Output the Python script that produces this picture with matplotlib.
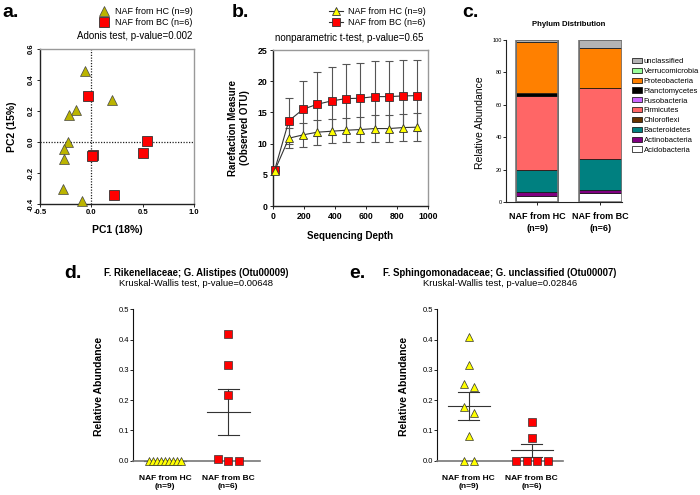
import numpy as np
import matplotlib
matplotlib.use("Agg")
import matplotlib.pyplot as plt
from matplotlib.patches import Patch
from matplotlib.lines import Line2D

plt.rcParams['font.family'] = ['Liberation Sans', 'DejaVu Sans']
plt.rcParams['axes.unicode_minus'] = False

# a. PCoA scores
hc_pc1 = [-0.059, 0.204, -0.149, -0.218, -0.227, -0.270, -0.266, -0.276, -0.088]
hc_pc2 = [0.460, 0.271, 0.206, 0.176, -0.002, -0.047, -0.112, -0.303, -0.381]
bc_pc1 = [-0.030, 0.539, 0.500, 0.019, 0.003, 0.221]
bc_pc2 = [0.297, 0.004, -0.069, -0.084, -0.092, -0.340]

# b. rarefaction
depth = [10, 102, 194, 286, 378, 471, 563, 655, 747, 839, 931]
hc_otu = [5.6, 10.86, 11.40, 11.83, 11.98, 12.14, 12.25, 12.41, 12.41, 12.57, 12.63]
hc_err = [0.0, 1.6, 1.9, 2.0, 1.95, 1.95, 2.05, 2.1, 2.1, 2.2, 2.2]
bc_otu = [5.7, 13.64, 15.51, 16.31, 16.84, 17.21, 17.27, 17.53, 17.53, 17.64, 17.69]
bc_err = [0.0, 3.7, 4.6, 5.1, 5.4, 5.55, 5.65, 5.75, 5.75, 5.7, 5.75]

# c. phylum distribution (%)
groups = ['NAF from HC\n(n=9)', 'NAF from BC\n(n=6)']
phyla = ['Acidobacteria', 'Actinobacteria', 'Bacteroidetes', 'Chloroflexi', 'Firmicutes',
         'Fusobacteria', 'Planctomycetes', 'Proteobacteria', 'Verrucomicrobia', 'unclassified']
phylum_hc = [4.1, 2.1, 13.4, 0.1, 45.7, 0.1, 1.8, 31.3, 0.2, 1.2]
phylum_bc = [6.0, 1.4, 19.1, 0.1, 44.0, 0.0, 0.1, 24.5, 0.0, 4.8]
phylum_colors = ['#FFFFFF', '#800080', '#008080', '#663300', '#FF6666',
                 '#CC66FF', '#000000', '#FF8000', '#99FF99', '#B3B3B3']

# d. Otu00009, e. Otu00007 relative abundance
d_hc = [0.0, 0.0, 0.0, 0.0, 0.0, 0.0, 0.0, 0.0, 0.0]
d_bc = [0.420, 0.317, 0.218, 0.007, 0.0, 0.0]
e_hc = [0.410, 0.317, 0.253, 0.242, 0.177, 0.157, 0.080, 0.0, 0.0]
e_bc = [0.128, 0.075, 0.0, 0.0, 0.0, 0.0]

olive = '#BBB400'
yellow = '#FFFF00'
red = '#FF0000'
W, H = 700, 495

fig = plt.figure(figsize=(7, 4.95), dpi=100)


def px(l, t, r, b):
    return [l / W, 1 - b / H, (r - l) / W, (b - t) / H]


def ftext(x, y, s, **kw):
    fig.text(x / W, 1 - y / H, s, **kw)


def swarm(vals, step=0.167, width=0.25, tol=0.027):
    vals = np.asarray(vals, float)
    order = np.argsort(-vals, kind='stable')
    offs = np.zeros(len(vals))
    rows = []
    for i in order:
        if rows and vals[rows[-1][0]] - vals[i] < tol:
            rows[-1].append(i)
        else:
            rows.append([i])
    for row in rows:
        n = len(row)
        if n > 1:
            s = min(step, 2 * width / (n - 1))
            for k, i in enumerate(row):
                offs[i] = (k - (n - 1) / 2) * s
    return offs


# ---------------- a ----------------
ax = fig.add_axes(px(40, 49, 194, 204))
ax.axvline(0, color='#222', ls=(0, (1, 1.2)), lw=0.9, zorder=1)
ax.axhline(0, color='#222', ls=(0, (1, 1.2)), lw=0.9, zorder=1)
ax.plot(hc_pc1, hc_pc2, ls='none', marker='^', ms=6.5, mfc=olive, mec='#444', mew=0.5,
        zorder=3, clip_on=False)
ax.plot(bc_pc1, bc_pc2, ls='none', marker='s', ms=6.5, mfc=red, mec='#333', mew=0.6,
        zorder=3, clip_on=False)
ax.set_xlim(-0.5, 1.0)
ax.set_ylim(-0.4, 0.6)
ax.set_xticks([-0.5, 0.0, 0.5, 1.0])
ax.set_xticklabels(['-0.5', '0.0', '0.5', '1.0'])
ax.set_yticks([-0.4, -0.2, 0.0, 0.2, 0.4, 0.6])
ax.set_yticklabels(['-0.4', '-0.2', '0.0', '0.2', '0.4', '0.6'])
ax.tick_params(labelsize=5.5, length=2, width=0.6, pad=1.5)
for t in ax.get_xticklabels() + ax.get_yticklabels():
    t.set_fontweight('bold')
for t in ax.get_yticklabels():
    t.set_rotation(90)
    t.set_va('center')
for s in ['left', 'bottom']:
    ax.spines[s].set_color('#222')
    ax.spines[s].set_linewidth(1.0)
for s in ['top', 'right']:
    ax.spines[s].set_color('#999')
    ax.spines[s].set_linewidth(1.0)
fig.legend([Line2D([], [], ls='none', marker='^', ms=6.5, mfc=olive, mec='#444', mew=0.5),
            Line2D([], [], ls='none', marker='s', ms=6.5, mfc=red, mec='#333', mew=0.6)],
           ['NAF from HC (n=9)', 'NAF from BC (n=6)'],
           loc='upper left', bbox_to_anchor=(98 / W, 1 - 7 / H), frameon=False, fontsize=6.5,
           handlelength=1.3, handletextpad=0.6, labelspacing=0.2, borderpad=0, borderaxespad=0)
ftext(192, 36, 'Adonis test, p-value=0.002', fontsize=7, ha='right', va='center')
ftext(117, 230, 'PC1 (18%)', fontsize=7.5, fontweight='bold', ha='center', va='center')
ftext(12, 127, 'PC2 (15%)', fontsize=7.5, fontweight='bold', ha='center', va='center',
      rotation=90)
ftext(2, 17, 'a.', fontsize=14, fontweight='bold', ha='left', va='baseline')

# ---------------- b ----------------
ax = fig.add_axes(px(273, 50, 428, 206))
ax.errorbar(depth, bc_otu, yerr=bc_err, fmt='none', ecolor='#555', elinewidth=0.8,
            capsize=3, capthick=0.8, zorder=2)
ax.errorbar(depth, hc_otu, yerr=hc_err, fmt='none', ecolor='#555', elinewidth=0.8,
            capsize=3, capthick=0.8, zorder=2)
ax.plot(depth, bc_otu, color='#333', lw=0.8, marker='s', ms=6, mfc=red, mec='#333',
        mew=0.6, zorder=4, clip_on=False)
ax.plot(depth, hc_otu, color='#333', lw=0.8, marker='^', ms=6, mfc=yellow, mec='#333',
        mew=0.6, zorder=5, clip_on=False)
ax.set_xlim(0, 1000)
ax.set_ylim(0, 25)
ax.set_xticks(range(0, 1001, 200))
ax.set_yticks(range(0, 26, 5))
ax.tick_params(labelsize=6.3, length=2.5, width=0.6, pad=1.5)
for t in ax.get_xticklabels() + ax.get_yticklabels():
    t.set_fontweight('bold')
for s in ['left', 'bottom']:
    ax.spines[s].set_color('#222')
    ax.spines[s].set_linewidth(1.0)
for s in ['top', 'right']:
    ax.spines[s].set_color('#999')
    ax.spines[s].set_linewidth(1.0)
fig.legend([Line2D([], [], color='#333', lw=0.8, marker='^', ms=6, mfc=yellow, mec='#333',
                   mew=0.6),
            Line2D([], [], color='#333', lw=0.8, marker='s', ms=6, mfc=red, mec='#333',
                   mew=0.6)],
           ['NAF from HC (n=9)', 'NAF from BC (n=6)'],
           loc='upper left', bbox_to_anchor=(329 / W, 1 - 7 / H), frameon=False, fontsize=6.5,
           handlelength=1.6, handletextpad=0.5, labelspacing=0.2, borderpad=0, borderaxespad=0)
ftext(349.5, 38, 'nonparametric t-test, p-value=0.65', fontsize=7, ha='center', va='center')
ftext(350.5, 236, 'Sequencing Depth', fontsize=7, fontweight='bold', ha='center', va='center')
ftext(239, 127.5, 'Rarefaction Measure\n(Observed OTU)', fontsize=7, fontweight='bold',
      ha='center', va='center', rotation=90, linespacing=1.3)
ftext(232, 17, 'b.', fontsize=14, fontweight='bold', ha='left', va='baseline')

# ---------------- c ----------------
ax = fig.add_axes(px(506, 40, 622, 202.3))
xpos = np.arange(len(groups))
bottom = np.zeros(len(groups))
for name, vh, vb, col in zip(phyla, phylum_hc, phylum_bc, phylum_colors):
    vals = np.array([vh, vb])
    ax.bar(xpos, vals, width=0.67, bottom=bottom, color=col, edgecolor='#111', lw=0.5,
           label=name, zorder=2)
    bottom += vals
ax.bar(xpos, bottom, width=0.67, fill=False, edgecolor='#777', lw=1.2, zorder=3)
ax.set_xlim(-0.49, 1.34)
ax.set_ylim(0, 100)
ax.set_yticks(range(0, 101, 20))
ax.set_xticks(xpos)
ax.set_xticklabels(groups, fontsize=6.5, fontweight='bold', linespacing=1.4)
ax.tick_params(axis='y', labelsize=4, length=2, width=0.6, pad=1)
ax.tick_params(axis='x', length=2, width=0.6, pad=5)
ax.spines['top'].set_visible(False)
ax.spines['right'].set_visible(False)
for s in ['left', 'bottom']:
    ax.spines[s].set_color('#222')
    ax.spines[s].set_linewidth(0.8)
handles = [Patch(facecolor=c, edgecolor='black', lw=0.5) for c in phylum_colors][::-1]
fig.legend(handles, phyla[::-1], loc='upper left', bbox_to_anchor=(632 / W, 1 - 58 / H),
           frameon=False, fontsize=5.5, handlelength=1.25, handleheight=0.65,
           handletextpad=0.3, labelspacing=0.34, borderpad=0, borderaxespad=0)
ftext(569, 24, 'Phylum Distribution', fontsize=5.6, fontweight='bold', ha='center',
      va='center')
ftext(480, 122.5, 'Relative Abundance', fontsize=7.5, ha='center', va='center', rotation=90)
ftext(462, 17, 'c.', fontsize=14, fontweight='bold', ha='left', va='baseline')


# ---------------- d, e ----------------
def dot_panel(rect, hc, bc, title, sub, tx, ylx, lab, labx):
    ax = fig.add_axes(px(*rect))
    for i, (vals, mk, fc) in enumerate([(hc, '^', yellow), (bc, 's', red)]):
        vals = np.asarray(vals)
        m = vals.mean()
        sem = vals.std(ddof=1) / np.sqrt(len(vals))
        ax.plot([i - 0.336, i + 0.336], [m, m], color='#333', lw=0.8, zorder=2,
                clip_on=False)
        ax.plot([i, i], [m - sem, m + sem], color='#333', lw=0.8, zorder=2, clip_on=False)
        ax.plot([i - 0.166, i + 0.166], [m + sem, m + sem], color='#333', lw=0.8, zorder=2,
                clip_on=False)
        ax.plot([i - 0.166, i + 0.166], [m - sem, m - sem], color='#333', lw=0.8, zorder=2,
                clip_on=False)
        ax.plot(i + swarm(vals), vals, ls='none', marker=mk, ms=5.8, mfc=fc, mec='#333',
                mew=0.5, zorder=4, clip_on=False)
    ax.set_xlim(-0.5, 1.5)
    ax.set_ylim(0, 0.5)
    ax.set_yticks(np.arange(0, 0.51, 0.1))
    ax.set_yticklabels(['0.0', '0.1', '0.2', '0.3', '0.4', '0.5'])
    ax.set_xticks([0, 1])
    ax.set_xticklabels(groups, fontsize=6, fontweight='bold', linespacing=1.3)
    ax.tick_params(axis='y', labelsize=5.5, length=2, width=0.6, pad=1)
    ax.tick_params(axis='x', length=0, pad=10)
    ax.spines['top'].set_visible(False)
    ax.spines['right'].set_visible(False)
    ax.spines['left'].set_color('#111')
    ax.spines['left'].set_linewidth(0.8)
    ax.spines['bottom'].set_color('#777')
    ax.spines['bottom'].set_linewidth(1.2)
    ftext(tx, 273, title, fontsize=6.9, fontweight='bold', ha='center', va='center')
    ftext(tx, 283.5, sub, fontsize=6.8, ha='center', va='center')
    ftext(ylx, 386, 'Relative Abundance', fontsize=7.5, fontweight='bold', ha='center',
          va='center', rotation=90)
    ftext(labx, 277.5, lab, fontsize=14, fontweight='bold', ha='left', va='baseline')


dot_panel((133.3, 309.3, 260, 460.7), d_hc, d_bc,
          'F. Rikenellaceae; G. Alistipes (Otu00009)',
          'Kruskal-Wallis test, p-value=0.00648', 196, 99, 'd.', 64)
dot_panel((437.3, 309.3, 563.3, 460.7), e_hc, e_bc,
          'F. Sphingomonadaceae; G. unclassified (Otu00007)',
          'Kruskal-Wallis test, p-value=0.02846', 500, 404, 'e.', 349)

fig.savefig('out.png', dpi=100)
